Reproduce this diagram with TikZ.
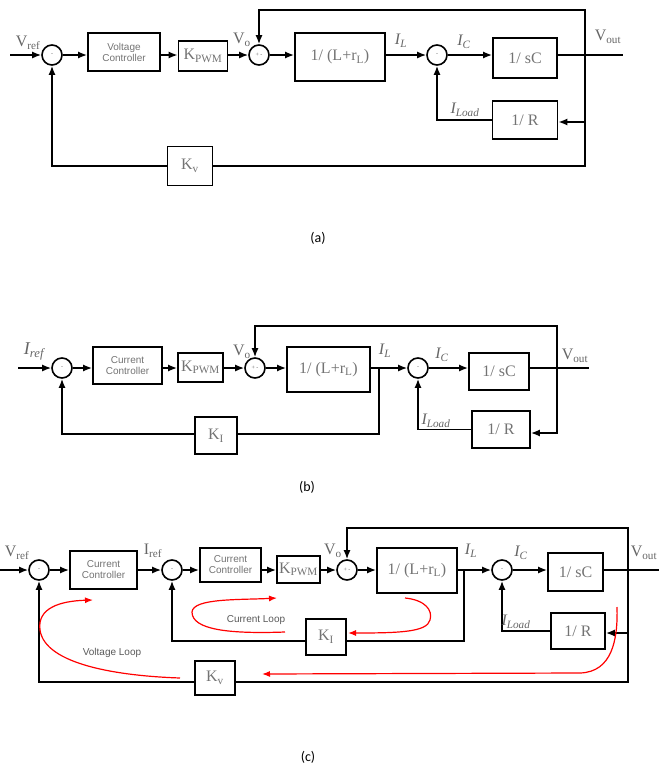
\documentclass[tikz,border=0pt]{standalone}
\usepackage{fontspec}
\setmainfont{Liberation Serif}
\newfontfamily\arialf{Liberation Sans}
\newfontfamily\capf{Carlito}
\usetikzlibrary{arrows.meta}

\tikzset{
  wire/.style={line width=1.6pt},
  sig/.style={wire, -{Latex[length=9pt,width=7pt]}},
  blk/.style={draw, line width=1.7pt, inner sep=0pt, text=black!55, font=\fontsize{16}{16}\selectfont},
  ctrl/.style={blk, align=center, font=\arialf\fontsize{10}{11}\selectfont},
  sumn/.style={draw, circle, line width=1.6pt, minimum size=20pt, inner sep=0pt, text=black!60, font=\fontsize{6}{6}\selectfont},
  lbl/.style={text=black!60, inner sep=0pt, font=\fontsize{16}{16}\selectfont},
  ilbl/.style={lbl, font=\itshape\fontsize{16}{16}\selectfont},
  captxt/.style={inner sep=0pt, font=\capf\fontsize{14}{14}\selectfont},
  looptxt/.style={inner sep=0pt, text=black!65, font=\arialf\fontsize{10}{10}\selectfont},
  loopline/.style={red, line width=1.2pt, -{Latex[length=8pt,width=6pt]}},
}

\begin{document}
\begin{tikzpicture}[x=1pt,y=-1pt]
  \useasboundingbox (0,0) rectangle (659,769);

  % ---------------- (a) voltage loop only
  \node[sumn] (s1A) at (52,55) {-};
  \node[ctrl, minimum width=72pt, minimum height=38pt] (vcA) at (124,52) {Voltage\\Controller};
  \node[blk, minimum width=49pt, minimum height=30pt] (kpwmA) at (203,56) {K\textsubscript{PWM}};
  \node[sumn] (s2A) at (259,55) {+ -};
  \node[blk, minimum width=90pt, minimum height=48pt] (plantA) at (340,57) {1/ (L+r\textsubscript{L})};
  \node[sumn] (s3A) at (437,55) {-};
  \node[blk, minimum width=64pt, minimum height=40pt] (sCA) at (525,58) {1/ sC};
  \node[blk, minimum width=65pt, minimum height=38pt] (RA) at (525,120) {1/ R};
  \node[blk, minimum width=45pt, minimum height=39pt] (KvA) at (190,166) {K\textsubscript{v}};

  \coordinate (inA) at (10,55);
  \coordinate (outA) at (623,55);
  \coordinate (rtA) at (585,55);
  \coordinate (topA) at (585,10);
  \coordinate (botA) at (585,166);

  \draw[sig] (inA) -- (s1A);
  \draw[sig] (s1A) -- (s1A -| vcA.west);
  \draw[sig] (vcA.east |- s1A) -- (kpwmA.west |- s1A);
  \draw[sig] (kpwmA.east |- s2A) -- (s2A);
  \draw[sig] (s2A) -- (s2A -| plantA.west);
  \draw[sig] (plantA.east |- s3A) -- (s3A);
  \draw[sig] (s3A) -- (s3A -| sCA.west);
  \draw[wire] (sCA.east |- s3A) -- (outA);
  \draw[sig] (rtA) -- (topA) -- (topA -| s2A) -- (s2A);
  \draw[wire] (rtA) -- (botA) -- (KvA.east |- botA);
  \draw[sig] (KvA.west |- botA) -- (botA -| s1A) -- (s1A);
  \draw[sig] (rtA |- 0,122) -- (RA.east |- 0,122);
  \draw[sig] (RA.west) -- (RA.west -| s3A) -- (s3A);

  \node[lbl] (vrefA) at (28,43) {V\textsubscript{ref}};
  \node[lbl] (voA) at (242,40) {V\textsubscript{o}};
  \node[ilbl] (ilA) at (401,41) {I\textsubscript{L}};
  \node[ilbl] (icA) at (464,42) {I\textsubscript{C}};
  \node[lbl] (voutA) at (608,37) {V\textsubscript{out}};
  \node[ilbl] (iloadA) at (465,110) {I\textsubscript{Load}};
  \node[captxt] (capA) at (318,238) {(a)};

  % ---------------- (b) current loop only
  \node[sumn] (s1B) at (62,368) {-};
  \node[ctrl, minimum width=69pt, minimum height=37pt] (ccB) at (127.5,365.5) {Current\\Controller};
  \node[blk, minimum width=45pt, minimum height=29pt] (kpwmB) at (200.5,367.5) {K\textsubscript{PWM}};
  \node[sumn] (s2B) at (255,368) {+ -};
  \node[blk, minimum width=83pt, minimum height=45pt] (plantB) at (328.5,369.5) {1/ (L+r\textsubscript{L})};
  \node[sumn] (s3B) at (418,368) {-};
  \node[blk, minimum width=60pt, minimum height=37pt] (sCB) at (499,371.5) {1/ sC};
  \node[blk, minimum width=58pt, minimum height=37pt] (RB) at (501,429.5) {1/ R};
  \node[blk, minimum width=42pt, minimum height=37pt] (KiB) at (216,435.5) {K\textsubscript{I}};

  \coordinate (inB) at (18,368);
  \coordinate (outB) at (589,368);
  \coordinate (jB) at (379,368);
  \coordinate (rtB) at (557,368);
  \coordinate (topB) at (557,326);
  \coordinate (botB) at (379,434);

  \draw[sig] (inB) -- (s1B);
  \draw[sig] (s1B) -- (s1B -| ccB.west);
  \draw[sig] (ccB.east |- s1B) -- (kpwmB.west |- s1B);
  \draw[sig] (kpwmB.east |- s2B) -- (s2B);
  \draw[sig] (s2B) -- (s2B -| plantB.west);
  \draw[sig] (plantB.east |- s3B) -- (s3B);
  \draw[sig] (s3B) -- (s3B -| sCB.west);
  \draw[wire] (sCB.east |- s3B) -- (outB);
  \draw[sig] (rtB) -- (topB) -- (topB -| s2B) -- (s2B);
  \draw[sig] (rtB) -- (rtB |- 0,433) -- (RB.east |- 0,433);
  \draw[sig] (RB.west) -- (RB.west -| s3B) -- (s3B);
  \draw[wire] (jB) -- (botB) -- (KiB.east |- botB);
  \draw[sig] (KiB.west |- botB) -- (botB -| s1B) -- (s1B);

  \node[ilbl, font=\itshape\fontsize{18}{18}\selectfont] (irefB) at (34,351) {I\textsubscript{ref}};
  \node[lbl] (voB) at (242,352) {V\textsubscript{o}};
  \node[ilbl] (ilB) at (385,351) {I\textsubscript{L}};
  \node[ilbl] (icB) at (442,355) {I\textsubscript{C}};
  \node[lbl] (voutB) at (575,356) {V\textsubscript{out}};
  \node[ilbl] (iloadB) at (436,421) {I\textsubscript{Load}};
  \node[captxt] (capB) at (307,487) {(b)};

  % ---------------- (c) cascaded loops
  \node[sumn] (s1C) at (39,570) {-};
  \node[ctrl, minimum width=67pt, minimum height=38pt] (cc1C) at (103.5,570) {Current\\Controller};
  \node[sumn] (s2C) at (172,570) {-};
  \node[ctrl, minimum width=61pt, minimum height=34pt] (cc2C) at (230.5,565) {Current\\Controller};
  \node[blk, minimum width=43pt, minimum height=27pt] (kpwmC) at (298.5,569.5) {K\textsubscript{PWM}};
  \node[sumn] (s3C) at (347,570) {+ -};
  \node[blk, minimum width=80pt, minimum height=45pt] (plantC) at (417,570.5) {1/ (L+r\textsubscript{L})};
  \node[sumn] (s4C) at (502,570) {-};
  \node[blk, minimum width=55pt, minimum height=38pt] (sCC) at (575.5,572) {1/ sC};
  \node[blk, minimum width=54pt, minimum height=36pt] (RC) at (578,631) {1/ R};
  \node[blk, minimum width=40pt, minimum height=36pt] (KiC) at (326,637) {K\textsubscript{I}};
  \node[blk, minimum width=40pt, minimum height=34pt] (KvC) at (215,678) {K\textsubscript{v}};

  \coordinate (inC) at (0,570);
  \coordinate (outC) at (659,570);
  \coordinate (jC) at (464,570);
  \coordinate (rtC) at (628,570);
  \coordinate (topC) at (628,528);
  \coordinate (midC) at (464,641);
  \coordinate (botC) at (628,682);

  \draw[sig] (inC) -- (s1C);
  \draw[sig] (s1C) -- (s1C -| cc1C.west);
  \draw[sig] (cc1C.east |- s1C) -- (s2C);
  \draw[sig] (s2C) -- (s2C -| cc2C.west);
  \draw[sig] (cc2C.east |- s2C) -- (kpwmC.west |- s2C);
  \draw[sig] (kpwmC.east |- s3C) -- (s3C);
  \draw[sig] (s3C) -- (s3C -| plantC.west);
  \draw[sig] (plantC.east |- s4C) -- (s4C);
  \draw[sig] (s4C) -- (s4C -| sCC.west);
  \draw[wire] (sCC.east |- s4C) -- (outC);
  \draw[sig] (rtC) -- (topC) -- (topC -| s3C) -- (s3C);
  \draw[sig] (rtC |- 0,633) -- (RC.east |- 0,633);
  \draw[sig] (RC.west) -- (RC.west -| s4C) -- (s4C);
  \draw[wire] (jC) -- (midC) -- (KiC.east |- midC);
  \draw[sig] (KiC.west |- midC) -- (midC -| s2C) -- (s2C);
  \draw[wire] (rtC) -- (botC) -- (KvC.east |- botC);
  \draw[sig] (KvC.west |- botC) -- (botC -| s1C) -- (s1C);

  \node[lbl] (vrefC) at (17,553) {V\textsubscript{ref}};
  \node[lbl] (irefC) at (153,551) {I\textsubscript{ref}};
  \node[lbl] (voC) at (333,551) {V\textsubscript{o}};
  \node[ilbl] (ilC) at (471,551) {I\textsubscript{L}};
  \node[ilbl] (icC) at (521,553) {I\textsubscript{C}};
  \node[lbl] (voutC) at (644,553) {V\textsubscript{out}};
  \node[ilbl] (iloadC) at (516,622) {I\textsubscript{Load}};
  \node[looptxt] (curlC) at (256,620) {Current Loop};
  \node[looptxt] (volC) at (112,653) {Voltage Loop};
  \node[captxt] (capC) at (308,757) {(c)};

  % red loop marks
  \draw[loopline] (180,678) .. controls (120,676) and (45,665) .. (40,630)
    .. controls (37,608) and (60,601) .. (93,600);
  \draw[loopline] (617,607) .. controls (618,640) and (612,672) .. (580,673) -- (262,674);
  \draw[loopline] (285,632) .. controls (230,634) and (192,630) .. (192,612)
    .. controls (193,598) and (240,600) .. (277,598);
  \draw[loopline] (405,598) .. controls (425,600) and (433,610) .. (430,620)
    .. controls (427,632) and (400,633) .. (348,633);

\end{tikzpicture}
\end{document}
